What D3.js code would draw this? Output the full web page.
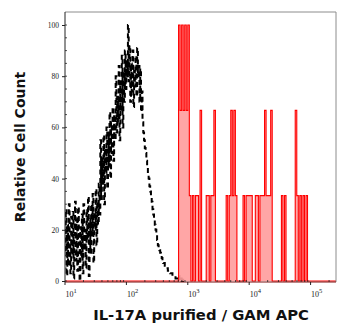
<!DOCTYPE html>
<html><head><meta charset="utf-8">
<script src="https://cdn.jsdelivr.net/npm/d3@7"></script>
<style>body{margin:0;background:#fff}svg{display:block}</style>
</head><body>
<svg id="c" width="350" height="335"></svg>
<script>
// ---- data ----
const logMin = 1.0, logMax = 5.414;
const yTicks = [0, 20, 40, 60, 80, 100];
const xTickExps = [1, 2, 3, 4, 5];
// isotype control (black dashed): relative count per bin (bin width 0.0125 decades, from 10^1)
const blackBinWidth = 0.0125;
const blackCounts = [
 12,28,2,22,6,30,14,3,25,10,27,1,18,31,8,24,4,29,15,0,21,9,26,3,30,12,20,5,28,16,33,2,24,11,30,18,34,7,27,20,36,14,31,22,38,26,
 55,32,48,38,57,30,52,42,60,36,58,45,66,40,62,50,68,47,65,55,
 80,58,72,62,84,55,78,66,88,60,82,70,90,75,86,80,100,
 78,92,70,85,74,90,68,82,76,88,72,91,80,84,70,83,66,74,
 62,58,55,52,50,47,45,42,40,37,35,33,
 31,28,26,24,22,20,18,16,14,13,12,11,10,9,8,7,7,6,6,5,5,4,4,4,3,3,3,2,2,2,2,1,1,1,1,2,1,0,1,0,1,0];
// IL-17A stained (red filled): raw events per bin (0..3), bin width 0.025 decades, starting at bin redStartBin
const redBinWidth = 0.025;
const redStartBin = 70;
const redEvents = [0,0,0,0,3,2,3,2,3,2,3,1,0,1,0,1,1,0,2,0,0,0,1,1,0,1,1,2,0,0,0,0,0,0,0,1,0,1,2,1,2,1,0,0,0,0,1,0,1,1,1,1,0,0,1,1,0,1,1,1,2,1,1,1,2,0,0,0,0,0,0,1,0,1,0,0,0,0,0,0,2,1,0,1,0,1,0,1,0];
const redMax = 3;
const xLabel = "IL-17A purified / GAM APC";
const yLabel = "Relative Cell Count";

// ---- layout ----
const svg = d3.select("#c");
const L = 65, R = 336, T = 12, B = 282;
const x = d3.scaleLog().domain([Math.pow(10, logMin), Math.pow(10, logMax)]).range([L, R]);
const y = d3.scaleLinear().domain([0, 100]).range([281, 25]);

function series(counts, start, width, scale) {
  const n = Math.ceil((logMax - logMin) / width);
  const pts = [];
  for (let i = 0; i < n; i++) {
    const j = i - start;
    const v = (j >= 0 && j < counts.length) ? counts[j] * scale : 0;
    pts.push({x0: Math.pow(10, logMin + i * width), v});
  }
  pts.push({x0: Math.pow(10, logMin + n * width), v: pts[pts.length-1].v});
  return pts;
}
const black = series(blackCounts, 0, blackBinWidth, 1).filter((d, i) => i <= blackCounts.length);
const red = series(redEvents, redStartBin, redBinWidth, 100 / redMax);

svg.append("clipPath").attr("id","pc").append("rect")
  .attr("x", L).attr("y", T).attr("width", R - L).attr("height", B - T + 1);

const g = svg.append("g").attr("clip-path","url(#pc)");
const line = d3.line().x(d => x(d.x0)).y(d => y(d.v)).curve(d3.curveStepAfter);
const area = d3.area().x(d => x(d.x0)).y0(y(0)).y1(d => y(d.v)).curve(d3.curveStepAfter);

g.append("path").datum(black).attr("d", line)
  .attr("fill","none").attr("stroke","#000").attr("stroke-width",2)
  .attr("stroke-dasharray","5,3.5");
g.append("path").datum(red).attr("d", area).attr("fill","#ff9c9c").attr("fill-opacity",0.9);
g.append("path").datum(red).attr("d", line)
  .attr("fill","none").attr("stroke","#f00").attr("stroke-width",1.1);

// frame
svg.append("path").attr("d",`M${L},${T}H${R}V${B}`).attr("fill","none").attr("stroke","#8c8c8c").attr("stroke-width",1);
svg.append("line").attr("x1",L).attr("x2",R).attr("y1",B).attr("y2",B).attr("stroke","#7a1010").attr("stroke-width",1.2);
svg.append("line").attr("x1",L).attr("x2",L).attr("y1",T).attr("y2",B).attr("stroke","#222").attr("stroke-width",1);

// y axis
const ya = svg.append("g").attr("transform",`translate(${L},0)`)
  .call(d3.axisLeft(y).tickValues(yTicks).tickSize(3).tickPadding(3));
ya.select(".domain").remove();
ya.selectAll("text").attr("font-family","'Liberation Serif', serif").attr("font-size",7.5).attr("fill","#222");
ya.selectAll("line").attr("stroke","#222");
const yMinor = d3.range(0, 101, 5);
svg.append("g").selectAll("line").data(yMinor).join("line")
  .attr("x1",L).attr("x2",L+2).attr("y1",d=>y(d)).attr("y2",d=>y(d)).attr("stroke","#222").attr("stroke-width",0.8);

// x axis
const majors = xTickExps.map(e => Math.pow(10, e));
svg.append("g").selectAll("line").data(majors).join("line")
  .attr("x1",d=>x(d)).attr("x2",d=>x(d)).attr("y1",B).attr("y2",B+3).attr("stroke","#222");
const minors = [];
for (let e = 1; e <= 5; e++) for (let k = 2; k <= 9; k++) { const v = k * Math.pow(10, e); if (x(v) <= R) minors.push(v); }
svg.append("g").selectAll("line").data(minors).join("line")
  .attr("x1",d=>x(d)).attr("x2",d=>x(d)).attr("y1",B).attr("y2",B-2).attr("stroke","#222").attr("stroke-width",0.8);
const xl = svg.append("g").selectAll("text").data(xTickExps).join("text")
  .attr("x", e => x(Math.pow(10, e)) + 0.5).attr("y", 297)
  .attr("font-family","'Liberation Serif', serif").attr("font-size",8).attr("fill","#222");
xl.append("tspan").text("10");
xl.append("tspan").attr("dy",-4).attr("font-size",6.5).text(e => e);

// titles
svg.append("text").attr("x",201).attr("y",320).attr("text-anchor","middle")
  .attr("font-family","'DejaVu Sans', sans-serif").attr("font-weight","bold").attr("font-size",14.8)
  .attr("fill","#111").text(xLabel);
svg.append("text").attr("transform","translate(25,147) rotate(-90)").attr("text-anchor","middle")
  .attr("font-family","'DejaVu Sans', sans-serif").attr("font-weight","bold").attr("font-size",14)
  .attr("fill","#111").text(yLabel);
</script>
</body></html>
